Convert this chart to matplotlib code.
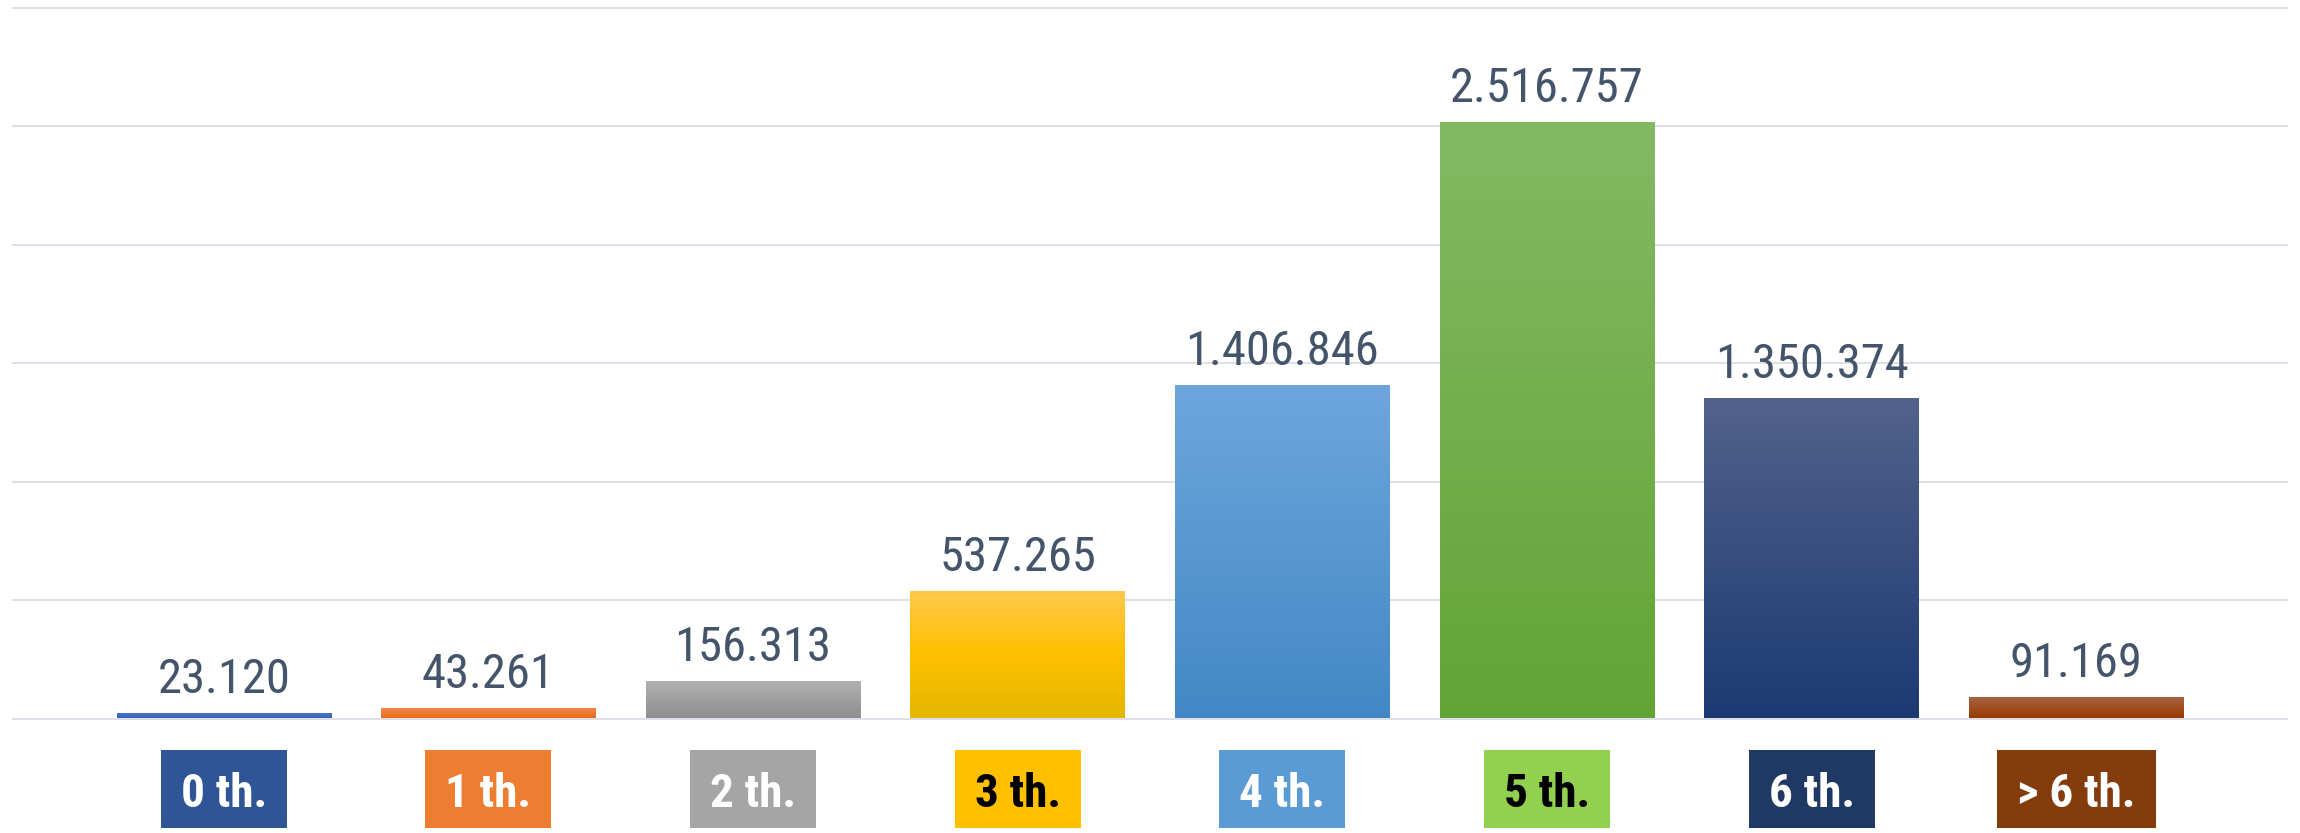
import matplotlib
matplotlib.use('Agg')
import matplotlib.pyplot as plt
import numpy as np
from matplotlib.colors import LinearSegmentedColormap
from matplotlib.patches import Rectangle

# chart data
categories = ['0 th.', '1 th.', '2 th.', '3 th.', '4 th.', '5 th.', '6 th.', '> 6 th.']
values = [23120, 43261, 156313, 537265, 1406846, 2516757, 1350374, 91169]

# bar gradients (bottom -> top) and label box colours
bar_grad = [['#3864B8', '#4A78CC'],
            ['#EA6B18', '#F08C50'],
            ['#8E8E8E', '#B2B2B2'],
            ['#E4B600', '#FFC000', '#FFC84C'],
            ['#4288C6', '#6EA6DC'],
            ['#62A535', '#84B964'],
            ['#1C3A72', '#52628C'],
            ['#983A00', '#A86545']]
box_colors = ['#2F5597', '#ED7D31', '#A5A5A5', '#FFC000', '#5B9BD5', '#92D050', '#203864', '#843C0C']
box_text = ['white', 'white', 'white', 'black', 'white', 'black', 'white', 'white']

W, H = 2300, 833
font = ['Roboto Condensed', 'DejaVu Sans']

fig = plt.figure(figsize=(W / 100, H / 100), dpi=100)

# axes placement in pixels: 0 at y=718.5, 3M at y=7.5 (from top)
ylo, yhi = -8000, 3.03e6
ppu = 711 / 3e6
bot_px = 718.5 + (0 - ylo) * ppu
top_px = 7.5 - (yhi - 3e6) * ppu
ax = fig.add_axes([12 / W, (H - bot_px) / H, 2276 / W, (bot_px - top_px) / H])

x = np.arange(len(categories))
bars = ax.bar(x, values, width=0.81, color='none', zorder=3)

# gradient fill inside each bar
for bar, grad in zip(bars, bar_grad):
    cmap = LinearSegmentedColormap.from_list('g', grad)
    x0, y0 = bar.get_x(), bar.get_y()
    x1, y1 = x0 + bar.get_width(), y0 + bar.get_height()
    im = ax.imshow(np.linspace(0, 1, 256).reshape(-1, 1), cmap=cmap, origin='lower',
                   extent=(x0, x1, y0, y1), aspect='auto', zorder=3)
    im.set_clip_path(bar)

# value labels
for xi, v in zip(x, values):
    ax.annotate(f"{v:,}".replace(',', '.'), (xi, v), xytext=(0, 14.5), textcoords='offset points',
                ha='center', va='baseline', fontsize=35, color='#44546A', family=font)

ax.set_xlim(-0.8, 7.8)
ax.set_ylim(ylo, yhi)
ax.set_yticks(np.arange(0, 3000001, 500000))
ax.grid(axis='y', color='#DDE1E7', linewidth=1.4, zorder=0)
ax.set_axisbelow(True)
ax.set_xticks([])
ax.tick_params(left=False, labelleft=False)
for s in ax.spines.values():
    s.set_visible(False)

# category labels in coloured boxes below the axis
texts = []
for xi, cat, tc in zip(x, categories, box_text):
    xf = (12 + (xi + 0.8) * 2276 / 8.6) / W
    t = fig.text(xf, 26 / H, cat, ha='center', va='baseline', fontsize=34,
                 fontweight='bold', color=tc, family=font, zorder=5)
    texts.append(t)

fig.canvas.draw()
renderer = fig.canvas.get_renderer()
for t, bc in zip(texts, box_colors):
    bb = t.get_window_extent(renderer)
    w = bb.width + 40
    cx = (bb.x0 + bb.x1) / 2
    fig.patches.append(Rectangle(((cx - w / 2) / W, 5 / H), w / W, 78 / H,
                                 transform=fig.transFigure, facecolor=bc,
                                 edgecolor='none', zorder=1))

fig.savefig('out.png', dpi=100)
